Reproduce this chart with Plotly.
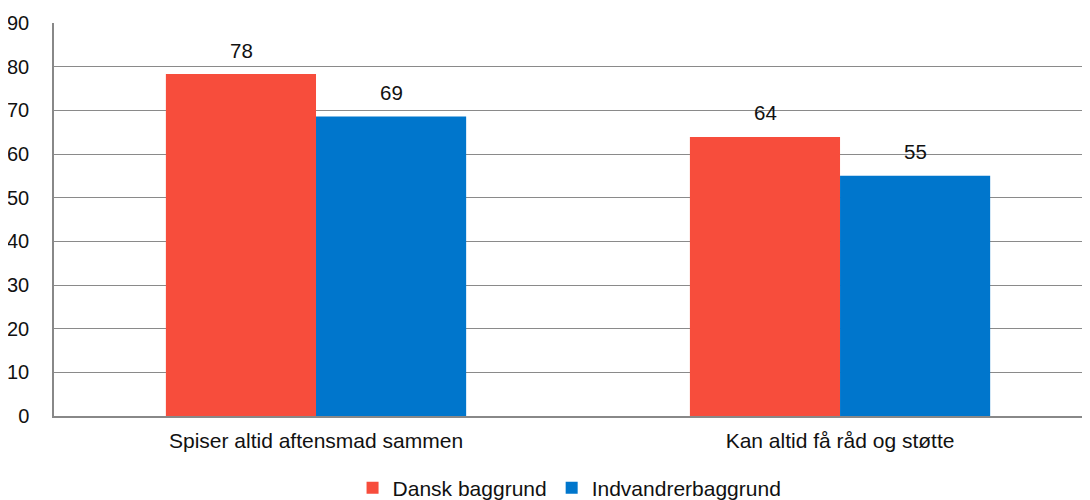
import plotly.graph_objects as go

categories = ["Spiser altid aftensmad sammen", "Kan altid få råd og støtte"]
series_names = ["Dansk baggrund", "Indvandrerbaggrund"]
dansk = [78.3, 63.9]
indvandrer = [68.6, 55.0]
colors = ["#F74D3C", "#0076CC"]
y_ticks = [0, 10, 20, 30, 40, 50, 60, 70, 80, 90]

FONT = "Liberation Sans, Arial, sans-serif"
TXT = "#111"

fig = go.Figure()
for name, vals, col in zip(series_names, [dansk, indvandrer], colors):
    fig.add_trace(go.Bar(
        x=categories, y=vals, name=name,
        marker=dict(color=col, line=dict(width=0)),
    ))

# value labels
offsets = [-75, 75]
for vals, xs in zip([dansk, indvandrer], offsets):
    for c, v in zip(categories, vals):
        fig.add_annotation(
            x=c, y=v, text=f"{v:.0f}", showarrow=False,
            xshift=xs, yshift=24, yanchor="middle",
            font=dict(family=FONT, size=20.5, color=TXT),
        )

fig.update_layout(
    width=1082, height=492,
    margin=dict(l=46, r=0, t=15, b=84, autoexpand=False),
    paper_bgcolor="white", plot_bgcolor="white",
    barmode="group", bargap=0.427, bargroupgap=0,
    font=dict(family=FONT, size=21, color=TXT),
    legend=dict(
        orientation="h", xref="container", yref="container",
        x=0.519, xanchor="center", y=0.024, yanchor="middle",
        font=dict(family=FONT, size=21, color=TXT),
        itemwidth=30, traceorder="normal",
    ),
    showlegend=True,
)
fig.update_xaxes(
    type="category", range=[-0.5, 1.477], automargin=False,
    showline=True, linecolor="#888", linewidth=1.5,
    showgrid=False, ticks="", ticklabelstandoff=5,
    tickfont=dict(family=FONT, size=21, color=TXT),
)
fig.update_yaxes(
    range=[0, 90], tickvals=y_ticks, ticktext=[str(t) for t in y_ticks],
    automargin=False,
    showline=True, linecolor="#888", linewidth=1.5,
    showgrid=True, gridcolor="#8a8a8a", gridwidth=1.3,
    zeroline=False, ticks="", ticklabelstandoff=19,
    tickfont=dict(family=FONT, size=20, color=TXT),
)

fig.write_html("out.html")
